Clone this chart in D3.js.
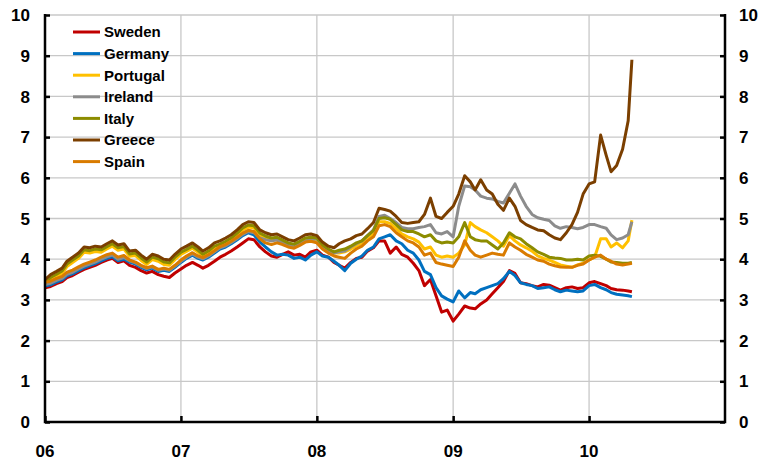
<!DOCTYPE html>
<html><head><meta charset="utf-8">
<script src="https://cdn.jsdelivr.net/npm/d3@7"></script>
<style>
html,body{margin:0;padding:0;background:#fff;}
svg{display:block;font-family:"Liberation Sans",Arial,sans-serif;font-weight:bold;}
</style></head>
<body><svg id="c" width="763" height="467"></svg>
<script>
// Half-monthly samples: 1st and 16th of each month from Jan 2006 to Apr 2010, then last observation
const dates = d3.range(104).map(k => new Date(2006, Math.floor(k / 2), k % 2 ? 16 : 1)).concat([new Date(2010, 3, 26)]);

const seriesNames = ["Sweden", "Germany", "Portugal", "Ireland", "Italy", "Greece", "Spain"];
const seriesColors = ["#c00000", "#0070c0", "#ffc000", "#8c8c8c", "#8c8c00", "#7b3f00", "#d97b00"];

const sweden = [
  3.30,3.33,3.40,3.45,3.55,3.60,3.68,3.75,3.80,3.85,3.92,3.98,4.02,3.92,3.96,3.85,3.80,3.72,3.66,3.70,3.62,3.58,3.55,3.66,
  3.76,3.85,3.92,3.85,3.78,3.85,3.95,4.05,4.12,4.20,4.30,4.40,4.50,4.48,4.30,4.18,4.08,4.05,4.12,4.18,4.10,4.12,4.05,4.18,
  4.22,4.10,4.05,3.92,3.85,3.78,3.92,4.02,4.05,4.20,4.28,4.45,4.45,4.15,4.30,4.12,4.05,3.90,3.72,3.35,3.50,3.10,2.70,2.75,
  2.48,2.65,2.85,2.80,2.78,2.90,3.00,3.15,3.30,3.45,3.72,3.65,3.42,3.40,3.35,3.32,3.38,3.36,3.30,3.24,3.30,3.32,3.28,3.30,
  3.42,3.45,3.40,3.35,3.28,3.25,3.24,3.22,3.20];
const germany = [
  3.34,3.37,3.44,3.49,3.59,3.64,3.72,3.79,3.84,3.89,3.96,4.02,4.06,3.96,4.00,3.93,3.88,3.80,3.74,3.78,3.70,3.73,3.70,3.80,
  3.92,4.02,4.10,4.02,3.98,4.05,4.15,4.25,4.30,4.38,4.48,4.58,4.65,4.60,4.42,4.30,4.18,4.10,4.12,4.10,4.02,4.05,3.98,4.10,
  4.18,4.08,4.05,3.95,3.85,3.72,3.90,4.00,4.08,4.22,4.30,4.50,4.55,4.60,4.45,4.38,4.22,4.15,3.98,3.70,3.62,3.30,3.10,3.02,
  2.95,3.22,3.05,3.18,3.15,3.25,3.30,3.35,3.40,3.52,3.70,3.60,3.42,3.38,3.35,3.28,3.30,3.32,3.25,3.20,3.24,3.22,3.20,3.22,
  3.35,3.38,3.30,3.25,3.18,3.14,3.12,3.10,3.08];
const portugal = [
  3.37,3.49,3.57,3.65,3.82,3.92,4.02,4.17,4.15,4.19,4.17,4.25,4.32,4.22,4.25,4.07,4.09,3.97,3.87,3.99,3.95,3.87,3.85,3.99,
  4.12,4.19,4.27,4.17,4.07,4.15,4.27,4.32,4.39,4.47,4.59,4.72,4.79,4.77,4.59,4.52,4.47,4.49,4.42,4.35,4.32,4.39,4.47,4.49,
  4.45,4.30,4.22,4.15,4.15,4.18,4.25,4.32,4.40,4.52,4.62,4.92,4.92,4.88,4.75,4.62,4.55,4.50,4.42,4.25,4.30,4.10,4.05,4.08,
  4.05,4.15,4.35,4.90,4.80,4.72,4.65,4.55,4.45,4.32,4.58,4.45,4.35,4.28,4.20,4.08,4.02,3.98,3.92,3.86,3.83,3.80,3.86,3.90,
  3.98,4.05,4.50,4.50,4.30,4.40,4.28,4.45,4.96];
const ireland = [
  3.38,3.41,3.48,3.53,3.63,3.68,3.76,3.83,3.88,3.93,4.00,4.06,4.10,4.00,4.04,3.96,3.91,3.83,3.77,3.81,3.73,3.76,3.73,3.83,
  3.95,4.05,4.13,4.05,4.01,4.08,4.18,4.28,4.33,4.41,4.51,4.61,4.68,4.65,4.52,4.48,4.45,4.47,4.40,4.34,4.30,4.38,4.45,4.48,
  4.50,4.32,4.22,4.15,4.18,4.20,4.30,4.38,4.45,4.58,4.72,5.05,5.08,5.00,4.90,4.78,4.75,4.75,4.78,4.80,4.85,4.65,4.62,4.68,
  4.55,5.30,5.80,5.78,5.70,5.55,5.50,5.48,5.42,5.38,5.62,5.85,5.55,5.30,5.10,5.02,4.98,4.95,4.82,4.76,4.80,4.78,4.75,4.78,
  4.85,4.85,4.80,4.76,4.60,4.48,4.52,4.60,4.92];
const italy = [
  3.43,3.55,3.63,3.71,3.88,3.98,4.08,4.23,4.21,4.25,4.23,4.31,4.38,4.28,4.31,4.13,4.15,4.03,3.93,4.05,4.01,3.93,3.91,4.05,
  4.17,4.24,4.32,4.22,4.12,4.20,4.32,4.37,4.44,4.52,4.64,4.77,4.84,4.82,4.64,4.57,4.52,4.54,4.47,4.40,4.37,4.44,4.52,4.54,
  4.52,4.35,4.25,4.18,4.22,4.25,4.32,4.40,4.45,4.58,4.70,5.00,5.02,4.98,4.85,4.72,4.68,4.68,4.62,4.55,4.60,4.45,4.40,4.42,
  4.40,4.55,4.90,4.55,4.48,4.45,4.45,4.35,4.25,4.40,4.65,4.55,4.50,4.38,4.28,4.18,4.12,4.05,4.03,4.02,3.98,3.98,4.00,3.98,
  4.08,4.10,4.07,4.00,3.93,3.92,3.90,3.90,3.92];
const greece = [
  3.50,3.62,3.70,3.78,3.95,4.05,4.15,4.30,4.28,4.32,4.30,4.38,4.45,4.35,4.38,4.20,4.22,4.10,4.00,4.12,4.08,4.00,3.98,4.12,
  4.25,4.32,4.40,4.30,4.20,4.28,4.40,4.45,4.52,4.60,4.72,4.85,4.92,4.90,4.72,4.65,4.60,4.62,4.55,4.48,4.45,4.52,4.60,4.62,
  4.58,4.42,4.32,4.28,4.38,4.45,4.50,4.58,4.62,4.75,4.90,5.25,5.22,5.18,5.05,4.90,4.88,4.90,4.92,5.10,5.50,5.05,5.00,5.15,
  5.30,5.60,6.05,5.90,5.70,5.95,5.70,5.60,5.35,5.20,5.50,5.30,4.95,4.85,4.78,4.72,4.70,4.60,4.52,4.48,4.65,4.85,5.15,5.60,
  5.85,5.90,7.05,6.55,6.15,6.30,6.70,7.40,8.90];
const spain = [
  3.43,3.46,3.53,3.58,3.68,3.73,3.81,3.88,3.93,3.98,4.05,4.11,4.15,4.05,4.09,3.98,3.93,3.85,3.79,3.83,3.75,3.78,3.75,3.85,
  3.98,4.08,4.16,4.08,4.04,4.11,4.21,4.31,4.36,4.44,4.54,4.64,4.71,4.68,4.50,4.40,4.36,4.40,4.36,4.30,4.27,4.34,4.42,4.44,
  4.40,4.25,4.15,4.08,4.05,4.02,4.15,4.25,4.32,4.45,4.55,4.82,4.85,4.80,4.65,4.55,4.45,4.40,4.30,4.10,4.15,3.92,3.88,3.85,
  3.82,4.05,4.45,4.22,4.10,4.05,4.10,4.15,4.12,4.10,4.40,4.30,4.22,4.12,4.05,3.98,3.95,3.88,3.84,3.81,3.80,3.80,3.85,3.88,
  3.98,4.05,4.10,4.00,3.95,3.88,3.86,3.88,3.90];

const seriesValues = [sweden, germany, portugal, ireland, italy, greece, spain];
const yTicks = [0,1,2,3,4,5,6,7,8,9,10];
const xTickDates = [2006, 2007, 2008, 2009, 2010].map(y => new Date(y, 0, 1));
const xTickLabels = ["06", "07", "08", "09", "10"];

const svg = d3.select("#c");
const L = 45, R = 725, T = 15, B = 422;
const x = d3.scaleTime().domain([new Date(2006,0,1), new Date(2011,0,1)]).range([L, R]);
const y = d3.scaleLinear().domain([0, 10]).range([B, T]);

// grid
const grid = svg.append("g").attr("stroke", "#c8c8c8").attr("stroke-width", 1.3);
grid.selectAll("line.h").data(yTicks.filter(d => d > 0)).join("line")
  .attr("x1", L).attr("x2", R).attr("y1", d => y(d)).attr("y2", d => y(d));
grid.selectAll("line.v").data(xTickDates.slice(1)).join("line")
  .attr("x1", d => x(d)).attr("x2", d => x(d)).attr("y1", T).attr("y2", B);

// series
const line = d3.line().x((d, i) => x(dates[i])).y(d => y(d));
svg.append("g").selectAll("path").data(seriesValues).join("path")
  .attr("d", d => line(d)).attr("fill", "none")
  .attr("stroke", (d, i) => seriesColors[i]).attr("stroke-width", 3)
  .attr("stroke-linejoin", "round");

// axes
const leftAxis = d3.axisRight(y).tickValues(yTicks).tickSize(5).tickFormat("");
const rightAxis = d3.axisLeft(y).tickValues(yTicks).tickSize(5).tickFormat("");
const bottomAxis = d3.axisTop(x).tickValues(xTickDates).tickSize(6).tickFormat("");
function styleAxis(g){ g.select(".domain").remove(); g.selectAll("line").attr("stroke", "#000").attr("stroke-width", 2.5); }
svg.append("g").attr("transform", `translate(${L},0)`).call(leftAxis).call(styleAxis);
svg.append("g").attr("transform", `translate(${R},0)`).call(rightAxis).call(styleAxis);
svg.append("g").attr("transform", `translate(0,${B})`).call(bottomAxis).call(styleAxis);
svg.append("path").attr("d", `M${L},${T-1}V${B}H${R}V${T-1}`).attr("fill", "none")
  .attr("stroke", "#000").attr("stroke-width", 2.5);

// labels
svg.append("g").selectAll("text").data(yTicks).join("text")
  .attr("x", 30).attr("y", d => y(d)).attr("dy", "0.36em").attr("text-anchor", "end")
  .attr("font-size", 17).text(d => d);
svg.append("g").selectAll("text").data(yTicks).join("text")
  .attr("x", 739).attr("y", d => y(d)).attr("dy", "0.36em").attr("text-anchor", "start")
  .attr("font-size", 17).text(d => d);
svg.append("g").selectAll("text").data(xTickDates).join("text")
  .attr("x", d => x(d)).attr("y", 457).attr("text-anchor", "middle")
  .attr("font-size", 17).text((d, i) => xTickLabels[i]);

// legend
const lg = svg.append("g").selectAll("g").data(seriesNames).join("g")
  .attr("transform", (d, i) => `translate(73,${32 + i * 21.6})`);
lg.append("line").attr("x1", 0).attr("x2", 27).attr("stroke", (d, i) => seriesColors[i]).attr("stroke-width", 3);
lg.append("text").attr("x", 31).attr("dy", "0.36em").attr("font-size", 15).text(d => d);
</script></body></html>
